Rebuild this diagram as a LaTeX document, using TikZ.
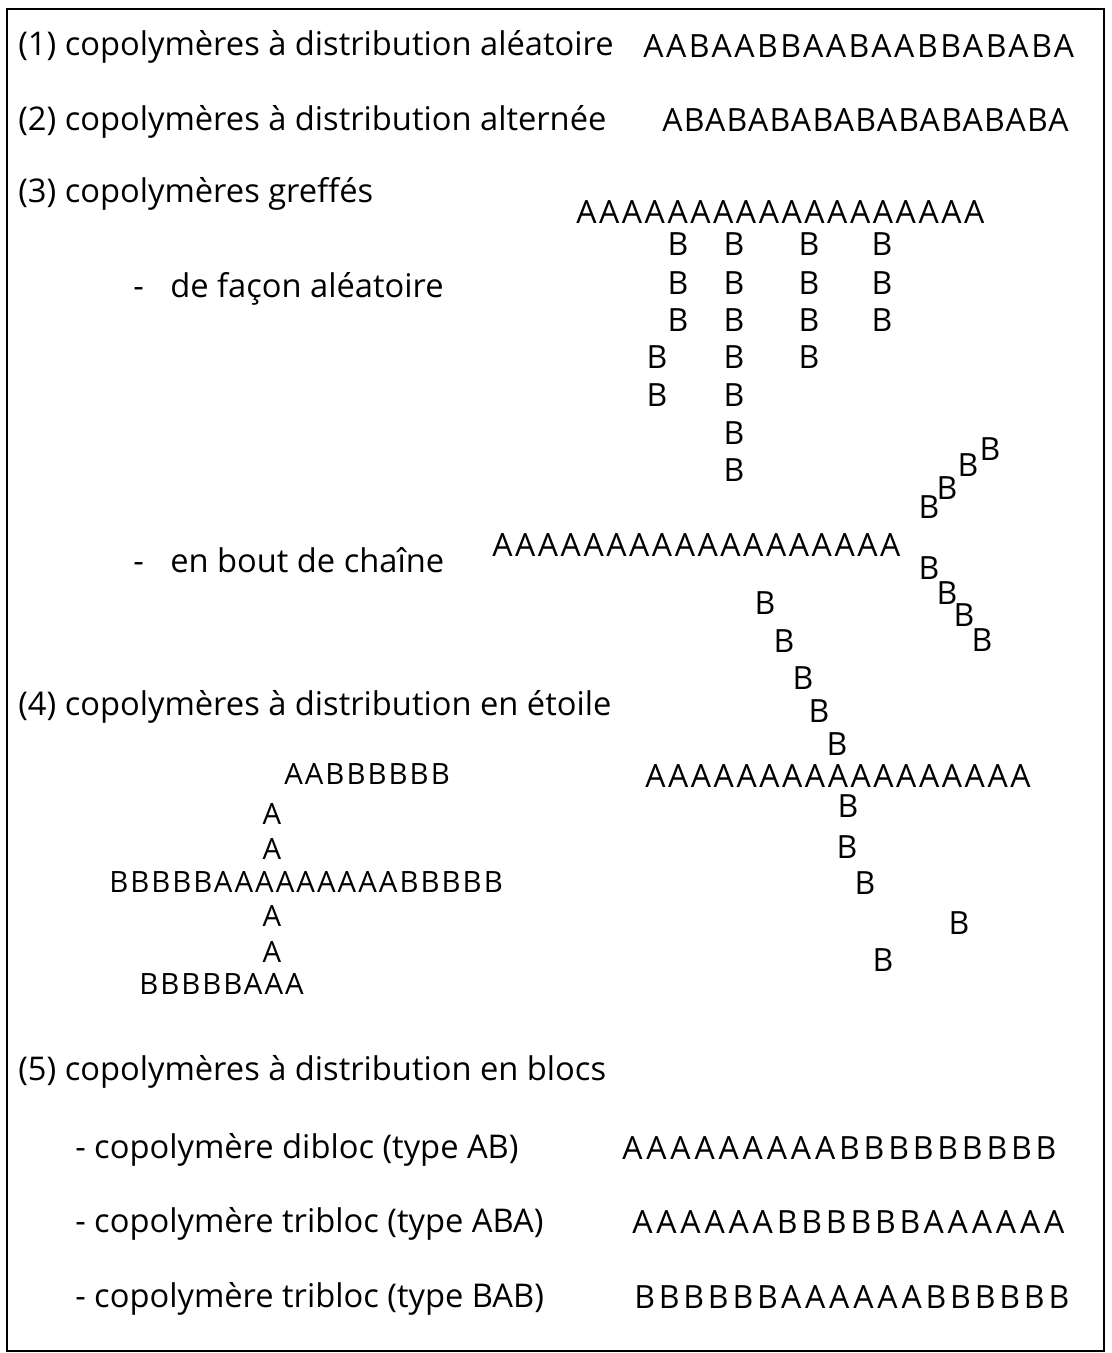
\documentclass[tikz,border=0pt]{standalone}
\usepackage{fontspec}
\setmainfont{Open Sans}
\newfontfamily\seqfont[LetterSpace=8]{Open Sans}
\newfontfamily\altfont[LetterSpace=4]{Open Sans}
\newfontfamily\blocfont[LetterSpace=12]{Open Sans}
\newfontfamily\starfont[LetterSpace=7]{Open Sans}

\begin{document}
\begin{tikzpicture}[x=0.75pt,y=-0.75pt,
	lbl/.style={anchor=base west,inner sep=0pt,font=\fontsize{24.5}{28}\selectfont},
	seq/.style={anchor=west,inner sep=0pt,font=\seqfont\fontsize{24}{28}\selectfont},
	alt/.style={anchor=west,inner sep=0pt,font=\altfont\fontsize{24}{28}\selectfont},
	bloc/.style={anchor=west,inner sep=0pt,font=\blocfont\fontsize{24}{28}\selectfont},
	mono/.style={inner sep=0pt,font=\seqfont\fontsize{24}{28}\selectfont},
	star/.style={inner sep=0pt,font=\starfont\fontsize{22}{26}\selectfont}]
	\useasboundingbox (0,0) rectangle (1111,1353);
	\draw[line width=1.5pt] (7,9) rectangle (1104,1351);

	% (1) et (2)
	\node[lbl] (t1) at (18,55) {(1) copolymères à distribution aléatoire};
	\node[seq] (s1) at (643,46) {AABAABBAABAABBABABA};
	\node[lbl] (t2) at (18,130) {(2) copolymères à distribution alternée};
	\node[alt] (s2) at (662,120) {ABABABABABABABABABA};

	% (3) greffés
	\node[lbl] (t3) at (18,202) {(3) copolymères greffés};
	\node[lbl] (d1) at (133,297) {-};
	\node[lbl] (t31) at (170,297) {de façon aléatoire};
	\node[seq] (g1) at (576,212) {AAAAAAAAAAAAAAAAAA};
	\foreach \x/\y [count=\i] in {678/244,678/283,678/320,657/357,657/395,
		734/244,734/283,734/320,734/357,734/395,734/433,734/470,
		809/244,809/283,809/320,809/357,882/244,882/283,882/320}
		\node[mono] (gb\i) at (\x,\y) {B};

	\node[lbl] (d2) at (133,572) {-};
	\node[lbl] (t32) at (170,572) {en bout de chaîne};
	\node[seq] (g2) at (492,545) {AAAAAAAAAAAAAAAAAA};
	\foreach \x/\y [count=\i] in {929/507,947/488,968/465,990/449,
		929/568,947/593,964/615,982/640}
		\node[mono] (eb\i) at (\x,\y) {B};

	% (4) étoile
	\node[lbl] (t4) at (18,715) {(4) copolymères à distribution en étoile};
	\node[star,anchor=west] (st1) at (284,774) {AABBBBBB};
	\node[star] (sa1) at (272,814) {A};
	\node[star] (sa2) at (272,849) {A};
	\node[star,anchor=west] (st2) at (109,882) {BBBBBAAAAAAAAABBBBB};
	\node[star] (sa3) at (272,916) {A};
	\node[star] (sa4) at (272,952) {A};
	\node[star,anchor=west] (st3) at (139,984) {BBBBBAAA};

	\node[seq] (g3) at (645,776) {AAAAAAAAAAAAAAAAA};
	\foreach \x/\y [count=\i] in {765/603,784/641,803/678,819/711,837/744,
		848/806,847/847,865/883,959/923,883/960}
		\node[mono] (sb\i) at (\x,\y) {B};

	% (5) blocs
	\node[lbl] (t5) at (18,1080) {(5) copolymères à distribution en blocs};
	\node[lbl] (t51) at (75,1158) {- copolymère dibloc (type AB)};
	\node[bloc] (b1) at (622,1148) {AAAAAAAAABBBBBBBBB};
	\node[lbl] (t52) at (75,1232) {- copolymère tribloc (type ABA)};
	\node[bloc] (b2) at (632,1222) {AAAAAABBBBBBAAAAAA};
	\node[lbl] (t53) at (75,1307) {- copolymère tribloc (type BAB)};
	\node[bloc] (b3) at (634,1297) {BBBBBBAAAAAABBBBBB};
\end{tikzpicture}
\end{document}
